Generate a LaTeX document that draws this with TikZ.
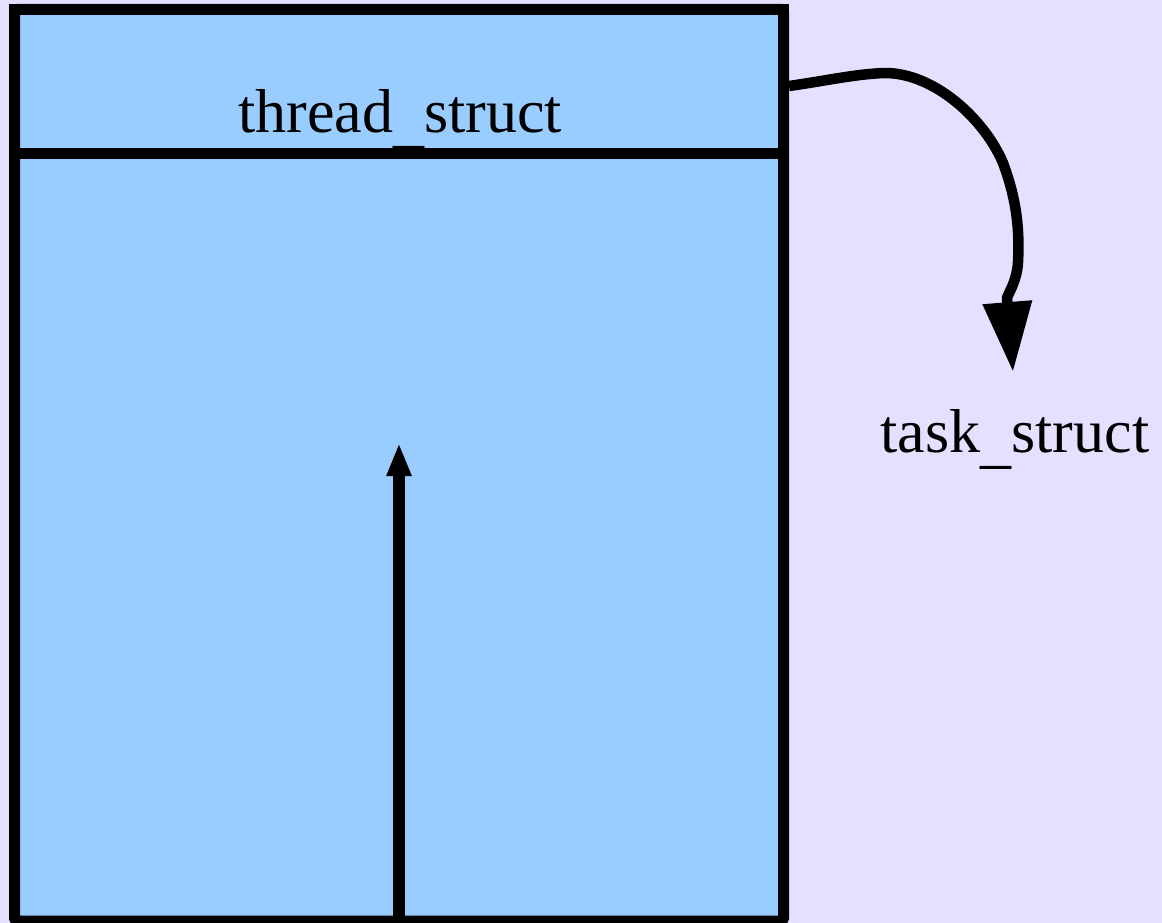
\documentclass[tikz,border=0pt]{standalone}
\usepackage{fontspec}
\setmainfont{Liberation Serif}
\usetikzlibrary{arrows.meta}
\definecolor{pagebg}{RGB}{228,224,255}
\definecolor{stackfill}{RGB}{153,204,255}
\newcommand{\lowbar}{\raisebox{-9pt}{\_}}
\tikzset{
  frame/.style={draw=black, line width=11pt, inner sep=0pt, outer sep=0pt, anchor=north west},
  label/.style={font=\fontsize{62}{70}\selectfont, inner sep=0pt, anchor=base},
  link/.style={draw=black, line width=10.5pt, line cap=butt, line join=round},
}
\begin{document}
\begin{tikzpicture}[x=1pt, y=-1pt]
  % page
  \fill[pagebg] (0,0) rectangle (1162,923);
  \useasboundingbox (0,0) rectangle (1162,923);
  \clip (0,0) rectangle (1162,923);

  % kernel stack with thread_struct at its top
  \node[frame, fill=stackfill, rounded corners=3pt,
        minimum width=769pt, minimum height=911.5pt] (stack) at (14.5,9.5) {};
  \node[frame, minimum width=769pt, minimum height=144pt] (thread) at (14.5,9.5) {};
  \node[label] (threadlbl) at (400,133) {thread\lowbar struct};

  % task_struct outside the stack
  \node[label] (task) at (1015,452) {task\lowbar struct};

  % stack pointer growing upwards
  \coordinate (spbase) at (399,930);
  \coordinate (sptip) at (399,443);
  \draw[line width=12pt, -{Triangle[length=33pt,width=23pt]}] (spbase) -- (sptip);

  % pointer from thread_struct to task_struct
  \coordinate (linkstart) at ([xshift=5.5pt, yshift=-4.5pt]thread.east);
  \coordinate (tasktip) at (1013,372);
  \draw[link, -{Triangle[length=70pt,width=47pt]}]
    (linkstart) .. controls (825,81) and (855,74) .. (885,73)
    .. controls (935,73) and (985,120) .. (1003,163)
    .. controls (1015,195) and (1020,225) .. (1018,262)
    .. controls (1017,280) and (1010,290) .. (1007,298) -- (tasktip);
\end{tikzpicture}
\end{document}
